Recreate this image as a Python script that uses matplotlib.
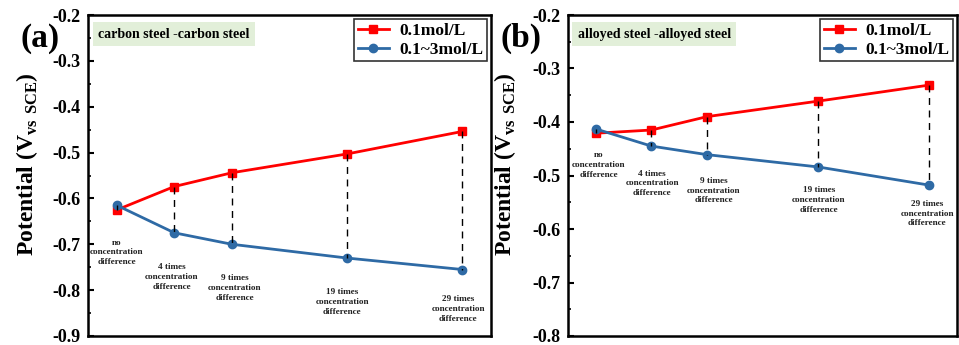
import matplotlib
matplotlib.use("Agg")
import matplotlib.pyplot as plt
from matplotlib.ticker import MultipleLocator, FuncFormatter

plt.rcParams['font.family'] = ['Liberation Serif', 'DejaVu Serif']
plt.rcParams['font.weight'] = 'bold'
plt.rcParams['mathtext.fontset'] = 'custom'
plt.rcParams['mathtext.rm'] = 'Liberation Serif'
plt.rcParams['mathtext.bf'] = 'Liberation Serif:bold'

x_pos = [0, 1, 2, 4, 6]
point_labels = ["no\nconcentration\ndifference",
                "4 times\nconcentration\ndifference",
                "9 times\nconcentration\ndifference",
                "19 times\nconcentration\ndifference",
                "29 times\nconcentration\ndifference"]

a_red = [-0.625, -0.574, -0.544, -0.503, -0.454]
a_blue = [-0.615, -0.675, -0.700, -0.730, -0.755]
b_red = [-0.421, -0.415, -0.390, -0.361, -0.331]
b_blue = [-0.413, -0.445, -0.461, -0.484, -0.518]

series_names = ["0.1mol/L", "0.1~3mol/L"]
titles = ["carbon steel -carbon steel", "alloyed steel -alloyed steel"]
panel_tags = ["(a)", "(b)"]
ylims = [(-0.9, -0.2), (-0.8, -0.2)]
# label offsets (points) from each blue point: (dx, dy)
label_offsets = [[(0, -24), (-2, -22), (2, -21.5), (-3.5, -21.5), (-3, -18.5)],
                 [(2, -16), (0.5, -17), (5, -16), (0.5, -14), (-1.5, -10.5)]]
ylabel_x = [-0.119, -0.128]

red = '#ff0000'
blue = '#2e6aa5'

W, H = 959, 345
TOP, BOT = 15, 336
fig = plt.figure(figsize=(W / 100, H / 100), dpi=100)
axes_rects = [[88 / W, (H - BOT) / H, 403 / W, (BOT - TOP) / H],
              [568 / W, (H - BOT) / H, 389 / W, (BOT - TOP) / H]]
data = [(a_red, a_blue), (b_red, b_blue)]

for i in range(2):
    ax = fig.add_axes(axes_rects[i])
    r, b = data[i]
    for xp, yr, yb in zip(x_pos, r, b):
        ax.plot([xp, xp], [yr, yb], color='black', ls=(0, (5, 4)), lw=1.0, zorder=4)
    ax.plot(x_pos, r, color=red, lw=2, marker='s', ms=6, label=series_names[0], zorder=3)
    ax.plot(x_pos, b, color=blue, lw=2, marker='o', ms=6, label=series_names[1], zorder=3)
    for xp, yb, lab, off in zip(x_pos, b, point_labels, label_offsets[i]):
        ax.annotate(lab, (xp, yb), xytext=off, textcoords='offset points',
                    ha='center', va='top', fontsize=6.6, fontweight='bold',
                    color='#222222', linespacing=1.3)
    ax.set_xlim(-0.5, 6.5)
    ax.set_ylim(*ylims[i])
    ax.set_xticks([])
    ax.yaxis.set_major_locator(MultipleLocator(0.1))
    ax.yaxis.set_minor_locator(MultipleLocator(0.05))
    ax.tick_params(axis='y', which='major', direction='in', length=4, width=1.5,
                   labelsize=13, pad=5.5)
    ax.tick_params(axis='y', which='minor', direction='in', length=2.5, width=1.2)
    ax.yaxis.set_major_formatter(FuncFormatter(lambda v, p: f"{v:.1f}"))
    for sp in ax.spines.values():
        sp.set_linewidth(1.8)
    ax.set_ylabel(r"Potential (V$_{\rm vs\ SCE}$)", fontsize=17, fontweight='bold')
    ax.yaxis.set_label_coords(ylabel_x[i], 0.535)
    ax.text(0.025, 0.94, titles[i], transform=ax.transAxes, fontsize=10, fontweight='bold',
            va='center', ha='left',
            bbox=dict(boxstyle='square,pad=0.4', facecolor='#e2efd9', edgecolor='none'))
    leg = ax.legend(loc='upper right', frameon=True, fancybox=False,
                    edgecolor='black', handlelength=1.8, borderaxespad=0.25,
                    borderpad=0.2, handletextpad=0.6, labelspacing=0.15,
                    prop={'weight': 'bold', 'size': 12.5})
    leg.get_frame().set_linewidth(1.2)
    fig.text(axes_rects[i][0] - 68 / W, 1 - 38 / H, panel_tags[i], fontsize=24,
             fontweight='bold', ha='left', va='center')

fig.savefig('out.png', dpi=100)
